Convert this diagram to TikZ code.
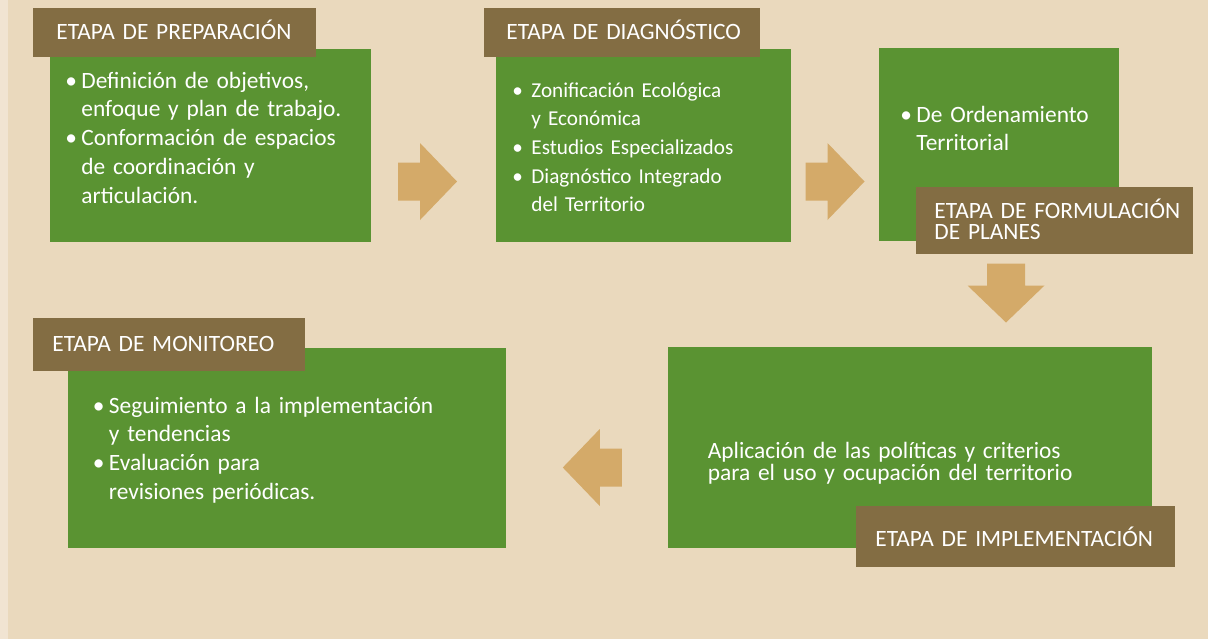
\documentclass[tikz,border=0pt]{standalone}
\usepackage{fontspec}
\setmainfont{Carlito}
\usetikzlibrary{positioning}

\definecolor{bgsand}{HTML}{EAD9BD}
\definecolor{bgstrip}{HTML}{F1E4D2}
\definecolor{stagegreen}{HTML}{5A9332}
\definecolor{tagbrown}{HTML}{836D43}
\definecolor{arrowtan}{HTML}{D4AA69}

\newcommand{\bul}{\makebox[8pt][l]{\textbullet}}
\newcommand{\ind}{\hspace*{8pt}}

\begin{document}
\begin{tikzpicture}[
  x=0.5pt,
  y=-0.5pt,
  greenbox/.style={
    rectangle,
    fill=stagegreen,
    anchor=north west,
    inner sep=0pt
  },
  tagbox/.style={
    rectangle,
    fill=tagbrown,
    anchor=north west,
    inner sep=0pt
  },
  tagtext/.style={
    text=white,
    anchor=base west,
    inner sep=0pt,
    text width=170pt,
    align=left,
    font=\fontsize{11.7}{10.5}\selectfont
  },
  bodytext/.style={
    text=white,
    anchor=base west,
    inner sep=0pt,
    text width=190pt,
    align=left,
    font=\fontsize{11.7}{14.4}\selectfont
  },
  blockarrow/.pic={
    \fill[arrowtan] (-29.5,-19) -- (-7.5,-19) -- (-7.5,-38.5) -- (29.5,0)
      -- (-7.5,38.5) -- (-7.5,19) -- (-29.5,19) -- cycle;
  }
]

\useasboundingbox (0,0) rectangle (1208,639);
\fill[bgsand] (0,0) rectangle (1208,639);
\fill[bgstrip] (0,0) rectangle (8,639);

\node[greenbox, minimum width=160.5pt, minimum height=96.5pt] (prep) at (50,49) {};
\node[greenbox, minimum width=147.5pt, minimum height=96.5pt] (diag) at (496,49) {};
\node[greenbox, minimum width=120pt, minimum height=96.5pt] (form) at (879,48) {};
\node[greenbox, minimum width=219pt, minimum height=100pt] (monit) at (68,348) {};
\node[greenbox, minimum width=242pt, minimum height=100.5pt] (impl) at (668,347) {};

\node[tagbox, minimum width=141.5pt, minimum height=24.5pt] (prepTag) at (33,8) {};
\node[tagbox, minimum width=138pt, minimum height=24.5pt] (diagTag) at (484,8) {};
\node[tagbox, minimum width=138.5pt, minimum height=33.5pt] (formTag) at (916,187) {};
\node[tagbox, minimum width=136pt, minimum height=26.5pt] (monitTag) at (33,318) {};
\node[tagbox, minimum width=159.5pt, minimum height=30.5pt] (implTag) at (856,506) {};

\node[tagtext] (prepTitle) at (56,39) {ETAPA DE PREPARACIÓN};
\node[tagtext] (diagTitle) at (506,39) {ETAPA DE DIAGNÓSTICO};
\node[tagtext] (formTitle) at (934,218) {ETAPA DE FORMULACIÓN\\DE PLANES};
\node[tagtext] (monitTitle) at (52,351) {ETAPA DE MONITOREO};
\node[tagtext] (implTitle) at (875,546) {ETAPA DE IMPLEMENTACIÓN};

\node[bodytext] (prepText) at (65,88) {\bul Definición de objetivos,\\
  \ind enfoque y plan de trabajo.\\
  \bul Conformación de espacios\\
  \ind de coordinación y\\
  \ind articulación.};
\node[bodytext, font=\fontsize{10.6}{14.35}\selectfont] (diagText) at (512,97) {\bul\hspace{1.5pt}Zonificación Ecológica\\
  \ind\hspace{1.5pt}y Económica\\
  \bul\hspace{1.5pt}Estudios Especializados\\
  \bul\hspace{1.5pt}Diagnóstico Integrado\\
  \ind\hspace{1.5pt}del Territorio};
\node[bodytext] (formText) at (900,122) {\bul De Ordenamiento\\
  \ind Territorial};
\node[bodytext] (monitText) at (92.5,413) {\bul Seguimiento a la implementación\\
  \ind y tendencias\\
  \bul Evaluación para\\
  \ind revisiones periódicas.};
\node[bodytext, font=\fontsize{11.7}{10}\selectfont] (implText) at (707.5,458) {Aplicación de las políticas y criterios\\
  para el uso y ocupación del territorio};

\pic at (427.5,181.5) {blockarrow};
\pic at (835,181.5) {blockarrow};
\pic[rotate=-90] at (1006,293) {blockarrow};
\pic[rotate=180] at (592.3,467.5) {blockarrow};

\end{tikzpicture}
\end{document}
